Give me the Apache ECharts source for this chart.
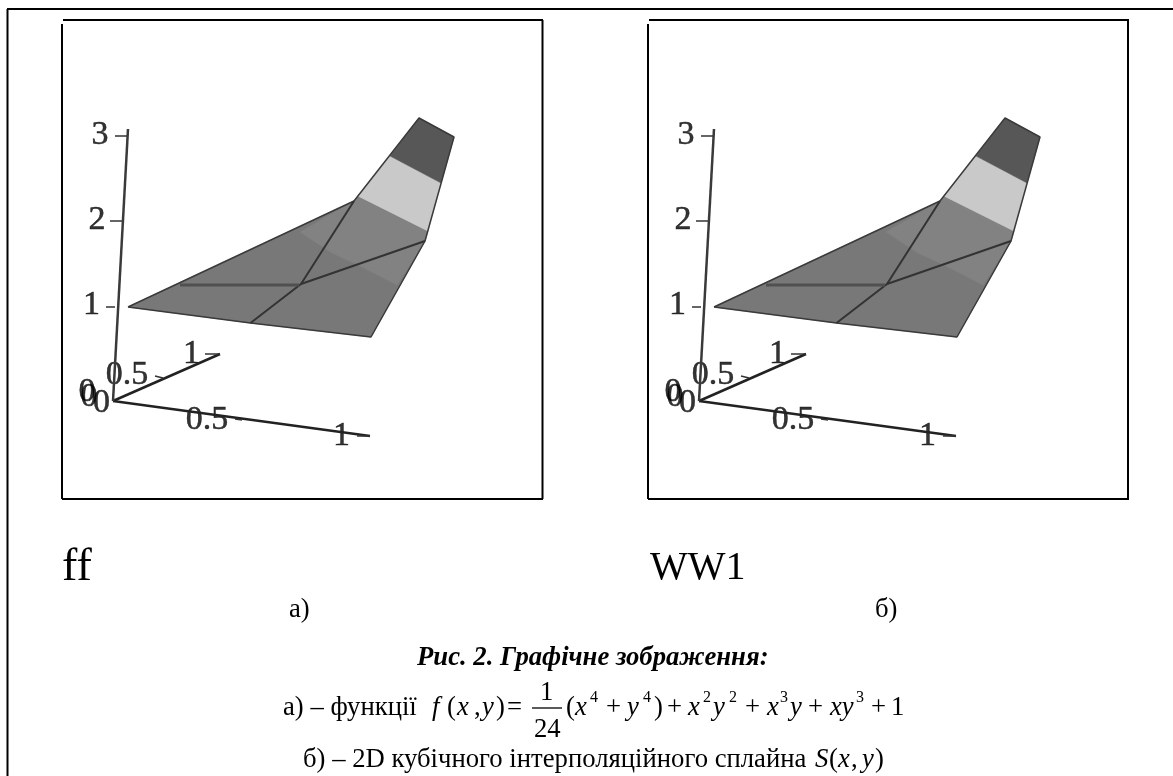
<!DOCTYPE html>
<html><head><meta charset="utf-8">
<style>html,body{margin:0;padding:0;background:#fff}#c{width:1173px;height:776px}</style>
<script src="https://cdn.jsdelivr.net/npm/echarts@6/dist/echarts.min.js"></script>
</head><body><div id="c"></div>
<script>
// Projected plot-plane readings: [horizontal, vertical] in plot units (frame = 480 x 479)
const baseBand  = [[66,192],[188.5,176],[309,162],[363,258],[292,298]];
const midBand   = [[292,298],[296,303],[366,268],[363,258],[335,214],[300,232],[270,246],[238,267]];
const lightBand = [[296,303],[328,343],[379,316],[366,268]];
const darkBand  = [[328,343],[357,381],[392,362],[379,316]];
const outlineEdge = [[66,192],[188.5,176],[309,162],[363,258],[392,362],[357,381],[292,298],[66,192]];
const gridLineA = [[188.5,176],[239,215],[292,298]];
const gridLineB = [[239,215],[363,258]];
const gridLineC = [[118,214],[237,214]];
const axisX = [[51,98],[308,63]];
const axisY = [[51,98],[158,145]];
const axisZ = [[51,98],[66,370]];
const tickMarks = [
  [[53,192],[44,192]], [[60,278],[48,278]], [[65,363],[53,363]],
  [[93,123],[101,121]], [[143,145],[158,145]],
  [[173,80],[180,79]], [[295,63],[308,63]]
];
const tickLabels = [
  ['1',29.5,193.5],['2',35,278.5],['3',38,363.5],
  ['0.5',65,123.5],['1',129.5,145],
  ['0.5',145,79],['1',279.5,63],
  ['0',25,107],['0',27,102],['0',39.5,95.5]
];
const panelLabels = ['ff','WW1'];
const subLabels = ['а)','б)'];
const panelOffsets = [62,648];
const surfaceBands = [[baseBand,'#787878'],[midBand,'#828282'],[lightBand,'#c9c9c9'],[darkBand,'#575757']];

const grids=[],xAxes=[],yAxes=[],series=[];
panelOffsets.forEach((left,i)=>{
  grids.push({left:left,top:20,width:480,height:479,show:false});
  xAxes.push({type:'value',gridIndex:i,min:0,max:480,show:false});
  yAxes.push({type:'value',gridIndex:i,min:0,max:479,show:false});
  const poly=(pts,color)=>({type:'custom',xAxisIndex:i,yAxisIndex:i,coordinateSystem:'cartesian2d',silent:true,clip:false,
    data:pts,encode:{x:0,y:1},
    renderItem:(p,api)=>p.dataIndex===0?{type:'polygon',shape:{points:pts.map(q=>api.coord(q))},style:{fill:color,stroke:color,lineWidth:0.5}}:null});
  surfaceBands.forEach(b=>series.push(poly(b[0],b[1])));
  const line=(pts,color,w)=>({type:'line',xAxisIndex:i,yAxisIndex:i,data:pts,symbol:'none',silent:true,animation:false,clip:false,
    lineStyle:{color:color,width:w}});
  series.push(line(outlineEdge,'#3a3a3a',1.5));
  series.push(line(gridLineA,'#333',2));
  series.push(line(gridLineB,'#333',2));
  series.push(line(gridLineC,'#505050',3));
  series.push(line(axisX,'#222',2.5));
  series.push(line(axisY,'#222',2.5));
  series.push(line(axisZ,'#3a3a3a',2.5));
  tickMarks.forEach(t=>series.push(line(t,'#333',1.5)));
  series.push({type:'scatter',xAxisIndex:i,yAxisIndex:i,symbolSize:0,silent:true,animation:false,clip:false,
    data:tickLabels.map(t=>({value:[t[1],t[2]],label:{show:true,formatter:t[0],position:'inside',color:'#000',
      fontFamily:'Liberation Serif',fontSize:34,textBorderColor:'#000',textBorderWidth:0.5}}))});
});

const S=26.7, U=16;
const txt=(text,x,y,size,extra)=>({type:'text',left:x,top:y,silent:true,
  style:Object.assign({text:text,fontFamily:'Liberation Serif',fontSize:size,fill:'#000'},extra||{})});
const it={fontStyle:'italic'};
const seg=(x1,y1,x2,y2,w,c)=>({type:'line',silent:true,shape:{x1,y1,x2,y2},style:{stroke:c||'#000',lineWidth:w}});
const F=694, P=689.5, L=746;
const graphic=[
  seg(7,9,1173,9,2), seg(7.5,9,7.5,776,2),
  seg(63,20,543,20,2), seg(62,24,62,499,2), seg(542.5,20,542.5,499,2), seg(62,499,543,499,2),
  seg(649,20,1129,20,2), seg(648,24,648,499,2), seg(1128,20,1128,499,2), seg(648,499,1129,499,2),
  txt(panelLabels[0],62,545,46), txt(panelLabels[1],650,548,40),
  txt(subLabels[0],289,596,S), txt(subLabels[1],875,596,S),
  txt('Рис. 2. Графічне зображення:',417,645,S,{fontWeight:'bold',fontStyle:'italic'}),
  txt('а) – функції',283,F,S),
  txt('f',432,F,S,it), txt('(',447,F,S), txt('x',457,F,S,it), txt(',',474,F,S), txt('y',482,F,S,it), txt(')',496,F,S), txt('=',507,F,S),
  txt('1',540,679,S), seg(532,708,562,708,1.3), txt('24',534,716,S),
  txt('(',566,F,S), txt('x',575,F,S,it), txt('4',590,P,U), txt('+',606,F,S), txt('y',627,F,S,it), txt('4',643,P,U), txt(')',654,F,S),
  txt('+',667,F,S), txt('x',688,F,S,it), txt('2',703,P,U), txt('y',713,F,S,it), txt('2',729,P,U),
  txt('+',745,F,S), txt('x',767,F,S,it), txt('3',780,P,U), txt('y',790,F,S,it), txt('+',808,F,S), txt('xy',830,F,S,it), txt('3',856,P,U), txt('+',871,F,S), txt('1',891,F,S),
  txt('б) – 2D кубічного інтерполяційного сплайна',303,L,S),
  txt('S',815,L,S,it), txt('(',829,L,S), txt('x',838,L,S,it), txt(',',851,L,S), txt('y',862,L,S,it), txt(')',875,L,S)
];
const chart=echarts.init(document.getElementById('c'),null,{renderer:'canvas'});
chart.setOption({animation:false,backgroundColor:'#fff',grid:grids,xAxis:xAxes,yAxis:yAxes,series:series,graphic:graphic});
</script></body></html>
